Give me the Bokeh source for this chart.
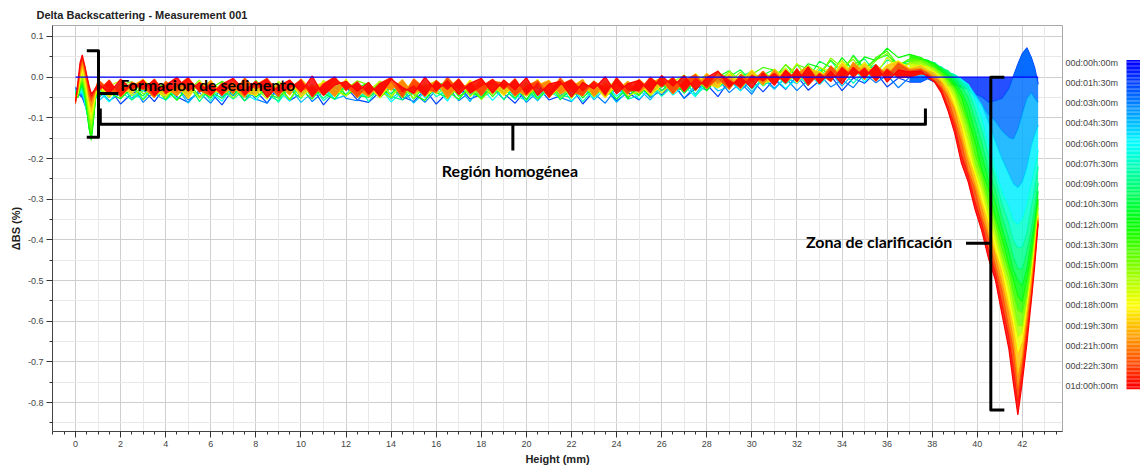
import colorsys
from bokeh.plotting import figure
from bokeh.layouts import row
from bokeh.models import Range1d, FixedTicker, PrintfTickFormatter, Grid
from bokeh.core.properties import value
from bokeh.embed import file_html
from bokeh.resources import INLINE

# ---------------- data (ΔBS in thousandths of a percent) ----------------
heights_mm = [0.0, 0.1, 0.2, 0.3, 0.4, 0.5, 0.6, 0.7, 0.8, 0.9,
              1.0, 1.5, 2.0, 2.5, 3.0, 3.5, 4.0, 4.5, 5.0, 5.5, 6.0, 6.5,
              7.0, 7.5, 8.0, 8.5, 9.0, 9.5, 10.0, 10.5, 11.0, 11.5, 12.0, 12.5,
              13.0, 13.5, 14.0, 14.5, 15.0, 15.5, 16.0, 16.5, 17.0, 17.5, 18.0, 18.5,
              19.0, 19.5, 20.0, 20.5, 21.0, 21.5, 22.0, 22.5, 23.0, 23.5, 24.0, 24.5,
              25.0, 25.5, 26.0, 26.5, 27.0, 27.5, 28.0, 28.5, 29.0, 29.5, 30.0, 30.5,
              31.0, 31.5, 32.0, 32.5, 33.0, 33.5, 34.0, 34.5, 35.0, 35.5, 36.0, 36.5,
              37.0,
              37.5, 37.8, 38.1, 38.4, 38.7, 39.0, 39.3, 39.6, 39.9, 40.2, 40.5, 40.8,
              41.1, 41.4, 41.6, 41.8, 42.0, 42.2, 42.4, 42.55, 42.7]

dbs_t00h00 = [0] * len(heights_mm)  # reference scan

dbs_t01h30 = [-25, -35, -45, -50, -65, -80, -95, -110, -70, -40,
              -52, -26, -66, -40, -30, -60, -22, -48, -62, -32, -38, -68,
              -28, -50, -34, -64, -22, -58, -40, -26, -68, -36, -24, -56,
              -62, -36, -24, -48, -60, -30, -66, -38, -22, -54, -42, -26,
              -40, -64, -30, -24, -56, -46, -26, -66, -34, -28, -58, -38,
              -56, -24, -44, -14, -52, -28, -18, -48, -8, -32, -8, -36,
              -5, -30, 3, -32, -9, 4, -33, -2, -15, 12, -24, -2,
              -12,
              -12, -4, -12, -14, -22, -18, -26, -28, -42, -48, -62, -58, -52, -28, 2, 32, 58, 72, 48, 22, -18]

dbs_t03h00 = [-30, -35, -40, -45, -60, -80, -100, -120, -75, -42,
              -30, -58, -40, -20, -62, -34, -48, -24, -56, -38, -64, -26,
              -46, -22, -54, -64, -28, -40, -24, -60, -36, -20, -52, -58,
              -26, -50, -20, -56, -38, -62, -32, -22, -58, -36, -46, -28,
              -54, -24, -62, -36, -20, -50, -60, -30, -40, -64, -26, -48,
              -20, -50, -32, -18, -52, -20, -32, -4, -38, -14, -42, 0,
              -27, -2, -33, -6, 7, -24, -7, -26, 9, -14, 5, -26,
              0,
              -2, 6, -2, -6, -12, -14, -22, -28, -46, -68, -92, -108, -132, -148, -152, -128, -88, -52, -38, -52, -62]

dbs_t04h30 = [-30, -40, -40, -40, -60, -85, -105, -125, -80, -42,
              -60, -34, -22, -52, -18, -42, -56, -26, -64, -30, -20, -48,
              -26, -58, -36, -18, -50, -24, -62, -38, -22, -54, -44, -20,
              -46, -20, -54, -30, -64, -36, -22, -50, -26, -60, -18, -42,
              -18, -50, -32, -58, -24, -46, -38, -20, -56, -28, -62, -34,
              -30, -56, -20, -36, -12, -42, -4, -34, -24, -4, -36, -4,
              -30, 0, -16, 12, -18, 12, -22, 8, 16, -6, 24, 4,
              12,
              18, 22, 14, 12, 4, 2, -12, -18, -42, -68, -112, -158, -202, -238, -262, -272, -258, -222, -168, -142, -118]

dbs_t06h00 = [-35, -40, -35, -35, -55, -85, -110, -135, -85, -42,
              -31, -61, -23, -43, -53, -19, -57, -33, -17, -49, -37, -59,
              -19, -41, -57, -25, -33, -59, -17, -51, -29, -55, -21, -45,
              -47, -23, -61, -35, -19, -51, -29, -59, -15, -43, -25, -57,
              -27, -55, -17, -49, -37, -21, -59, -33, -51, -19, -47, -25,
              -54, -24, -12, -44, -22, -48, -8, -26, -8, -34, 6, -22,
              0, -28, -4, 14, -18, 8, -6, 24, -12, 22, 12, -2,
              8,
              28, 32, 24, 22, 12, 6, -6, -18, -55, -98, -165, -225, -282, -318, -352, -362, -348, -312, -258, -222, -180]

dbs_t07h30 = [-40, -45, -35, -30, -50, -85, -115, -140, -90, -43,
              -52, -18, -36, -56, -26, -44, -16, -54, -30, -24, -58, -20,
              -32, -50, -18, -28, -62, -24, -46, -20, -58, -34, -42, -16,
              -60, -24, -40, -20, -54, -16, -48, -32, -56, -18, -50, -36,
              -20, -44, -58, -26, -34, -52, -18, -60, -28, -40, -14, -54,
              -45, -15, -47, -21, -5, -45, -19, -7, -27, 3, -29, -3,
              7, -17, 7, -21, 19, -5, 17, -15, 15, 31, -1, 25,
              18,
              34, 36, 28, 26, 12, 6, -12, -32, -78, -128, -192, -248, -312, -358, -402, -420, -418, -382, -318, -272, -220]

dbs_t09h00 = [-35, -45, -30, -25, -45, -80, -120, -145, -95, -44,
              -26, -50, -12, -56, -34, -20, -46, -38, -16, -60, -24, -32,
              -54, -30, -22, -44, -58, -16, -40, -24, -52, -28, -14, -50,
              -34, -18, -48, -56, -26, -42, -14, -54, -22, -38, -50, -16,
              -56, -22, -32, -52, -16, -44, -50, -12, -40, -20, -54, -28,
              -17, -44, -25, -4, -39, -8, -21, 10, -21, 0, 15, -20,
              -3, 22, -9, 24, 11, 40, 9, 31, 45, 11, 42, 35,
              32,
              40, 38, 36, 22, 16, -2, -22, -50, -104, -160, -230, -276, -344, -396, -442, -470, -472, -428, -372, -318, -260]

dbs_t10h30 = [-45, -50, -30, -20, -40, -80, -125, -150, -100, -45,
              -38, -12, -50, -28, -46, -16, -56, -20, -42, -14, -36, -52,
              -22, -58, -24, -48, -12, -30, -52, -18, -40, -54, -16, -44,
              -50, -28, -42, -10, -54, -20, -38, -50, -14, -46, -26, -12,
              -30, -52, -18, -44, -10, -56, -28, -16, -48, -22, -54, -24,
              -43, -8, -33, -8, -39, -10, 5, -26, 1, 18, -11, 6,
              19, -2, 31, -2, 39, 24, 9, 54, 21, 44, 54, 31,
              40,
              44, 42, 33, 22, 8, -12, -36, -72, -134, -192, -254, -306, -372, -428, -474, -500, -512, -468, -402, -348, -280]

dbs_t12h00 = [-40, -50, -25, -15, -35, -75, -125, -155, -105, -45,
              -17, -39, -53, -23, -11, -47, -29, -57, -21, -31, -51, -13,
              -43, -13, -49, -29, -19, -55, -15, -41, -35, -9, -45, -27,
              -13, -51, -25, -19, -43, -57, -21, -11, -47, -31, -53, -17,
              -39, -21, -55, -15, -47, -31, -13, -51, -23, -41, -9, -53,
              -18, -47, -6, -25, -32, 1, -34, 1, 16, -11, 14, -9,
              -2, 31, 0, 33, 24, 5, 48, 17, 50, 41, 71, 48,
              56,
              48, 38, 32, 14, 2, -22, -50, -104, -160, -230, -276, -344, -396, -462, -498, -540, -552, -498, -432, -368, -300]

dbs_t13h30 = [-50, -45, -20, -10, -30, -65, -110, -135, -95, -42,
              -50, -20, -34, -14, -56, -24, -18, -44, -12, -48, -28, -10,
              -24, -48, -8, -38, -52, -20, -30, -54, -16, -26, -46, -14,
              -44, -10, -28, -50, -18, -40, -12, -34, -54, -22, -14, -48,
              -18, -40, -12, -54, -26, -16, -44, -36, -10, -48, -24, -30,
              -45, -14, -19, -30, 5, -34, 3, -12, 13, -16, 7, 24,
              17, -6, 31, 20, 7, 42, 17, 52, 16, 48, 64, 29,
              45,
              42, 36, 22, 12, -8, -28, -70, -118, -190, -240, -304, -356, -424, -476, -530, -572, -580, -528, -452, -384, -310]

dbs_t15h00 = [-45, -45, -15, 0, -20, -55, -95, -120, -85, -40,
              -25, -49, -19, -11, -41, -29, -53, -15, -35, -7, -45, -23,
              -51, -21, -37, -15, -27, -55, -17, -43, -11, -39, -29, -9,
              -19, -35, -51, -13, -43, -23, -9, -47, -29, -15, -55, -25,
              -41, -7, -45, -27, -13, -51, -23, -17, -49, -11, -35, -19,
              -8, -31, -8, -39, -6, -11, -26, 15, -14, 13, -16, 13,
              -6, 31, 8, 29, 2, 47, 24, 44, 10, 41, 58, 20,
              36,
              38, 28, 22, 4, -12, -38, -84, -138, -212, -258, -322, -378, -444, -498, -556, -610, -612, -548, -470, -402, -320]

dbs_t16h30 = [-55, -40, -10, 10, -10, -40, -80, -105, -75, -38,
              -42, -22, -8, -46, -26, -50, -12, -36, -18, -52, -14, -32,
              -12, -44, -26, -54, -10, -36, -20, -48, -8, -32, -46, -16,
              -34, -10, -46, -20, -52, -14, -40, -26, -6, -48, -22, -42,
              -8, -48, -18, -38, -28, -12, -52, -16, -42, -24, -10, -46,
              -35, -8, -39, -12, 5, -24, -5, -26, 14, -8, 12, -20,
              20, -5, 34, -5, 24, 13, 41, 9, 37, 6, 49, 17,
              33,
              28, 26, 14, 2, -22, -50, -104, -160, -230, -276, -344, -396, -462, -524, -584, -640, -628, -558, -482, -408, -335]

dbs_t18h00 = [-50, -40, -5, 20, 0, -30, -65, -90, -65, -35,
              -15, -49, -23, -41, -5, -33, -47, -19, -53, -11, -27, -43,
              -9, -37, -45, -15, -31, -7, -49, -23, -13, -41, -5, -47,
              -23, -51, -13, -37, -9, -47, -27, -15, -43, -7, -35, -19,
              -45, -19, -35, -5, -49, -25, -11, -41, -21, -51, -15, -31,
              -16, -44, -20, -1, -28, 9, -16, -26, 8, -12, 18, -14,
              -8, 22, -14, 20, 14, -2, 36, 8, 34, 1, 30, 40,
              22,
              30, 18, 12, -8, -28, -70, -118, -190, -240, -304, -356, -424, -476, -556, -608, -680, -650, -572, -488, -418, -340]

dbs_t19h30 = [-60, -35, 5, 30, 10, -20, -55, -75, -55, -32,
              -36, -12, -48, -22, -6, -40, -26, -46, -14, -32, -8, -44,
              -24, -50, -10, -38, -16, -44, -4, -34, -20, -48, -12, -30,
              -48, -16, -32, -6, -42, -22, -10, -52, -18, -36, -4, -40,
              -12, -30, -46, -20, -8, -42, -24, -6, -48, -16, -34, -10,
              -39, -15, -1, -37, -13, -25, 9, -17, 5, -29, 5, -19,
              19, -13, 9, 27, -3, 25, -7, 37, 10, 27, 0, 36,
              20,
              22, 14, 2, -12, -42, -78, -144, -206, -262, -318, -384, -436, -504, -578, -642, -735, -682, -590, -500, -430, -345]

dbs_t21h00 = [-55, -30, 15, 40, 20, -10, -45, -60, -45, -30,
              -6, -31, -44, -12, -24, -50, -10, -36, -4, -32, -46, -14,
              -40, -2, -30, -16, -48, -8, -34, -22, -44, -6, -20, -50,
              -18, -42, -12, -50, -4, -28, -38, 0, -32, -14, -46, -10,
              -14, -46, -22, -8, -40, -2, -34, -46, -10, -28, -16, -42,
              -5, -31, -7, -41, -9, 7, -28, -3, -30, 7, -12, 15,
              -17, 16, -4, 16, -16, 28, -2, 25, -6, 31, 5, 35,
              17,
              20, 10, -5, -22, -50, -104, -160, -230, -276, -344, -396, -462, -524, -612, -668, -770, -700, -606, -522, -438, -350]

dbs_t22h30 = [-65, -25, 25, 45, 30, 0, -30, -50, -40, -28,
              -35, -7, -47, -17, -30, -5, -41, -22, -1, -37, -15, -45,
              -9, -45, -19, -3, -39, -27, -6, -49, -16, 1, -33, -11,
              -43, -15, -1, -37, -20, -47, -8, -31, -4, -40, -23, -5,
              -30, -4, -43, -13, -50, -19, -6, -35, -10, -45, -1, -33,
              -34, 0, -24, 0, -36, -2, -25, 12, -7, -26, 5, -10,
              10, -15, 21, -20, 10, -11, 25, 0, 23, -10, 20, -2,
              0,
              8, 6, -10, -28, -70, -118, -190, -240, -305, -358, -424, -478, -556, -636, -712, -798, -718, -628, -540, -448, -354]

dbs_t24h00 = [-60, -15, 35, 55, 30, 5, -20, -40, -35, -25,
              -15, -40, -5, -30, -7, -45, -20, 0, -35, -13, -43, -17,
              -3, -33, -10, -50, -22, -7, -37, 3, -45, -19, -10, -35,
              -13, -47, -5, -25, -40, 0, -33, -9, -43, -15, -3, -39,
              -7, -31, -1, -45, -17, -10, -49, -13, -29, 1, -41, -16,
              -8, -38, 4, -22, 4, -32, -1, 15, -24, 0, -27, 10,
              -20, 17, -11, 25, -16, 15, -17, 24, -1, 30, -12, 18,
              13,
              15, 0, -12, -38, -82, -138, -212, -258, -325, -378, -446, -498, -584, -668, -752, -830, -748, -655, -548, -462, -360]

scan_times_h = [0, 1.5, 3, 4.5, 6, 7.5, 9, 10.5, 12, 13.5, 15, 16.5, 18, 19.5, 21, 22.5, 24]
scan_profiles = [dbs_t00h00, dbs_t01h30, dbs_t03h00, dbs_t04h30, dbs_t06h00, dbs_t07h30, dbs_t09h00,
                 dbs_t10h30, dbs_t12h00, dbs_t13h30, dbs_t15h00, dbs_t16h30, dbs_t18h00,
                 dbs_t19h30, dbs_t21h00, dbs_t22h30, dbs_t24h00]

colorbar_times_h = [0, 1.5, 3, 4.5, 6, 7.5, 9, 10.5, 12, 13.5, 15, 16.5, 18, 19.5, 21, 22.5, 24]
colorbar_labels = ["00d:00h:00m", "00d:01h:30m", "00d:03h:00m", "00d:04h:30m", "00d:06h:00m",
                   "00d:07h:30m", "00d:09h:00m", "00d:10h:30m", "00d:12h:00m", "00d:13h:30m",
                   "00d:15h:00m", "00d:16h:30m", "00d:18h:00m", "00d:19h:30m", "00d:21h:00m",
                   "00d:22h:30m", "01d:00h:00m"]

y_tick_values = [-0.8, -0.7, -0.6, -0.5, -0.4, -0.3, -0.2, -0.1, 0.0, 0.1]

# annotations (data units)
ann_texts = ["Formacion de sedimento", "Región homogénea", "Zona de clarificación"]
ann_x = [1.98, 16.25, 32.4]
ann_y = [-0.018, -0.229, -0.403]
bracket_xs = [[0.5, 1.02, 1.02, 0.5], [1.02, 1.9],
              [1.1, 1.1, 37.7, 37.7], [19.4, 19.4],
              [41.2, 40.6, 40.6, 41.2], [39.5, 40.6]]
bracket_ys = [[0.065, 0.065, -0.148, -0.148], [-0.04, -0.04],
              [-0.077, -0.116, -0.116, -0.077], [-0.116, -0.18],
              [0.0, 0.0, -0.818, -0.818], [-0.408, -0.408]]


def time_color(t):
    hue = (240.0 * (1.0 - min(max(t, 0.0), 24.0) / 24.0)) / 360.0
    r, g, b = colorsys.hsv_to_rgb(hue, 1.0, 1.0)
    return "#%02x%02x%02x" % (int(round(r * 255)), int(round(g * 255)), int(round(b * 255)))


for prof in scan_profiles:
    assert len(prof) == len(heights_mm), len(prof)

# ---------------- main figure ----------------
p = figure(width=1064, height=467, x_range=Range1d(-1.02, 43.78), y_range=Range1d(-0.871, 0.127),
           output_backend="svg", toolbar_location=None,
           min_border_left=52, min_border_right=2, min_border_top=25, min_border_bottom=35,
           title="Delta Backscattering - Measurement 001")
p.background_fill_color = "white"
p.border_fill_color = "white"
p.outline_line_color = "#a8a8a8"
p.title.text_font = "Liberation Sans"
p.title.text_font_size = "11px"
p.title.text_font_style = "bold"
p.title.text_color = "#222222"
p.title.align = "left"
p.title.offset = -16
p.title.standoff = 9

# axes
x_major = [float(v) for v in range(0, 43, 2)]
x_minor = [v * 0.5 for v in range(-2, 88)]
p.xaxis.ticker = FixedTicker(ticks=x_major, minor_ticks=x_minor)
p.yaxis.ticker = FixedTicker(ticks=y_tick_values,
                             minor_ticks=[-0.85, -0.75, -0.65, -0.55, -0.45, -0.35, -0.25, -0.15, -0.05, 0.05])
p.yaxis.formatter = PrintfTickFormatter(format="%.1f")
p.xaxis.axis_label = "Height (mm)"
p.yaxis.axis_label = "ΔBS (%)"
for ax in (p.xaxis, p.yaxis):
    ax.major_tick_in = 0
    ax.major_tick_out = 6
    ax.minor_tick_in = 0
    ax.minor_tick_out = 3
    ax.major_tick_line_color = "#333333"
    ax.minor_tick_line_color = "#333333"
    ax.axis_line_color = "#444444"
    ax.major_label_text_font = "Liberation Sans"
    ax.major_label_text_font_size = "9px"
    ax.major_label_text_color = "#444444"
    ax.major_label_standoff = 3
    ax.axis_label_text_font = "Liberation Sans"
    ax.axis_label_text_font_size = "11px"
    ax.axis_label_text_font_style = "bold"
    ax.axis_label_text_color = "#222222"
    ax.axis_label_standoff = 3

# grids
p.xgrid.ticker = FixedTicker(ticks=x_major)
p.xgrid.grid_line_color = "#cfcfcf"
p.ygrid.grid_line_color = "#cfcfcf"
p.ygrid.minor_grid_line_color = "#e8e8e8"
odd_grid = Grid(dimension=0, ticker=FixedTicker(ticks=[float(v) for v in range(-1, 44, 2)]),
                grid_line_color="#e8e8e8")
p.add_layout(odd_grid)

# scans, drawn chronologically so that the latest (red) lie on top.
# Where the scans are dense (sediment foot, clarification front, late scans) the
# space swept between consecutive scans is shaded with the scan colour.
ys_all = [[v / 1000.0 for v in prof] for prof in scan_profiles]
foot_end = heights_mm.index(1.0) + 1
clar_start = heights_mm.index(37.0)
for i in range(1, len(scan_times_h)):
    if scan_times_h[i] >= 19.5:
        spans = [(0, len(heights_mm))]
        col = time_color(scan_times_h[i])
    elif i == 1:
        spans = [(clar_start, len(heights_mm))]
        col = time_color(0.5 * (scan_times_h[i - 1] + scan_times_h[i]) + 0.4)
    else:
        spans = [(0, foot_end), (clar_start, len(heights_mm))]
        col = time_color(0.5 * (scan_times_h[i - 1] + scan_times_h[i]) + 0.4)
    for a, b in spans:
        p.varea(x=heights_mm[a:b], y1=ys_all[i - 1][a:b], y2=ys_all[i][a:b],
                fill_color=col, fill_alpha=0.85)
    p.line(x=heights_mm, y=ys_all[i], line_color=time_color(scan_times_h[i]), line_width=1.2)
# reference scan (t = 0) on top
p.line(x=heights_mm, y=ys_all[0], line_color=time_color(0), line_width=1.2)

# annotation brackets and texts
p.multi_line(xs=bracket_xs, ys=bracket_ys, line_color="black", line_width=3, line_join="round")
p.text(x=ann_x, y=ann_y, text=ann_texts, text_font=value("Lato"), text_font_style="bold",
       text_font_size="16px", text_color="black", text_align="left", text_baseline="middle")

# ---------------- colour scale ----------------
cb = figure(width=76, height=467, x_range=Range1d(0, 76), y_range=Range1d(27.34, -2.75),
            output_backend="svg", toolbar_location=None, min_border=0,
            x_axis_location=None, y_axis_location=None)
cb.grid.visible = False
cb.outline_line_color = None
cb.background_fill_color = "white"
cb.border_fill_color = "white"
steps = [(-0.2 + 0.1 * i) for i in range(244)]
cb.quad(left=62, right=76, top=steps, bottom=[s + 0.1 for s in steps],
        fill_color=[time_color(s + 0.05) for s in steps], line_color=None)
cb.text(x=1, y=colorbar_times_h, text=colorbar_labels, text_font=value("Liberation Sans"),
        text_font_size="9px", text_color="#444444", text_align="left", text_baseline="middle")

layout = row(p, cb)
open("out.html", "w").write(file_html(layout, INLINE, title="Delta Backscattering"))
